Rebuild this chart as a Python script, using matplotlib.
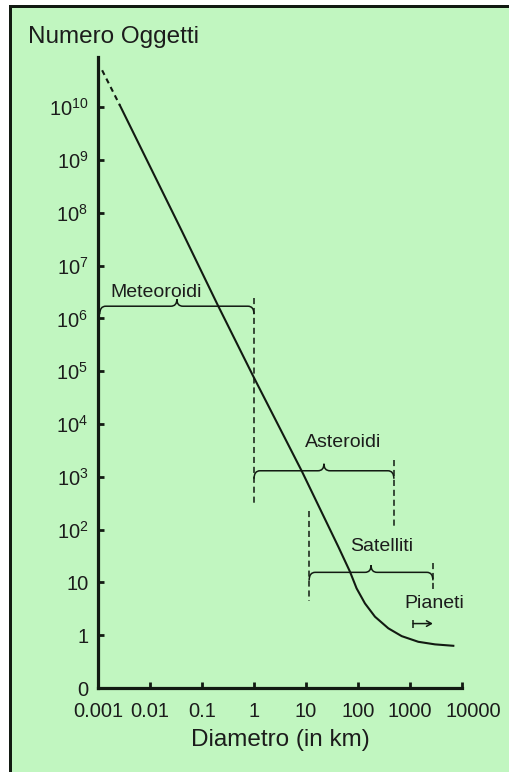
import numpy as np
import matplotlib
matplotlib.use('Agg')
import matplotlib.pyplot as plt
from matplotlib.path import Path
from matplotlib.patches import PathPatch, Rectangle
from matplotlib.transforms import IdentityTransform, ScaledTranslation

plt.rcParams['font.family'] = 'Liberation Sans'
plt.rcParams['mathtext.fontset'] = 'custom'
plt.rcParams['mathtext.rm'] = 'Liberation Sans'
plt.rcParams['mathtext.default'] = 'regular'

# curva: numero di oggetti per diametro (km)
diametri = [0.0012, 0.00265, 0.041, 0.2, 0.95, 8.4, 42, 70, 94, 136, 212, 383, 692, 1445, 3030, 6810]
oggetti = [5.0e10, 1.07e10, 4.5e7, 1.8e6, 8.3e4, 1.25e3, 47, 16, 7.7, 4.0, 2.24, 1.35, 0.96, 0.75, 0.67, 0.63]
n_tratteggio = 2   # primi punti disegnati tratteggiati

# graffe per le famiglie
gruppi = ['Meteoroidi', 'Asteroidi', 'Satelliti']
gruppi_da = [0.00108, 1.0, 11.5]
gruppi_a = [1.0, 490, 2760]
gruppi_n = [1.7e6, 1.3e3, 15.5]
etich_d = [0.013, 51, 288]
etich_n = [3.4e6, 4.9e3, 52.5]

# limiti tratteggiati verticali
limiti_d = [1.0, 490, 11.5, 2760]
limiti_n_da = [2.4e6, 2.05e3, 229, 23]
limiti_n_a = [316, 105, 4.4, 6.8]

pianeti_d, pianeti_n = 2880, 4.4
freccia_d = [1150, 2750]
freccia_n = 1.66

xticks = [1e-3, 1e-2, 1e-1, 1, 10, 100, 1000, 10000]
xlabels = ['0.001', '0.01', '0.1', '1', '10', '100', '1000', '10000']
yticks = [0.1, 1, 10] + [10.0**k for k in range(2, 11)]
ylabels = ['0', '1', '10'] + [r'$10^{%d}$' % k for k in range(2, 11)]

verde = '#c1f6c0'
scuro = '#121a12'
testo = '#1c1c1c'

fig = plt.figure(figsize=(5.09, 7.72), dpi=100)
fig.patch.set_facecolor('white')
fig.patches.append(Rectangle((9/509, 0), 1, 1 - 5/772, transform=fig.transFigure,
                             facecolor=verde, edgecolor='none', zorder=-10))
fig.patches.append(Rectangle((9/509, 0), 3/509, 1 - 5/772, transform=fig.transFigure,
                             facecolor=scuro, edgecolor='none', zorder=-9))
fig.patches.append(Rectangle((9/509, 1 - 8/772), 1, 3/772, transform=fig.transFigure,
                             facecolor=scuro, edgecolor='none', zorder=-9))

ax = fig.add_axes([98/509, 84/772, 364/509, 631/772])
ax.set_facecolor('none')
ax.set_xscale('log')
ax.set_yscale('log')
ax.set_xlim(1e-3, 1e4)
ax.set_ylim(0.1, 10**10.95)

for s in ['top', 'right']:
    ax.spines[s].set_visible(False)
for s in ['left', 'bottom']:
    ax.spines[s].set_linewidth(2.3)
    ax.spines[s].set_color(scuro)

ax.set_xticks(xticks)
ax.set_xticklabels(xlabels)
ax.set_yticks(yticks)
ax.set_yticklabels(ylabels)
ax.minorticks_off()
ax.tick_params(axis='both', direction='in', length=4.5, width=2, color=scuro,
               labelsize=14.5, labelcolor=testo)
ax.tick_params(axis='x', pad=10)
ax.tick_params(axis='y', pad=7)

# l'ultima etichetta sta un po' a destra della tacca
ult = ax.get_xticklabels()[-1]
ult.set_transform(ult.get_transform() + ScaledTranslation(0.11, 0, fig.dpi_scale_trans))

ax.set_xlabel('Diametro (in km)', fontsize=17.5, color=testo, labelpad=6)
fig.text(28/509, 1 - 37/772, 'Numero Oggetti', fontsize=17.5, color=testo,
         ha='left', va='center')

# curva
ax.plot(diametri[:n_tratteggio], oggetti[:n_tratteggio], color=scuro, lw=1.5,
        ls=(0, (2.5, 2)), solid_capstyle='butt')
ax.plot(diametri[n_tratteggio - 1:], oggetti[n_tratteggio - 1:], color=scuro, lw=1.5)

# limiti tratteggiati
for d, a, b in zip(limiti_d, limiti_n_da, limiti_n_a):
    ax.plot([d, d], [a, b], color=scuro, lw=1.1, ls=(0, (4, 2.5)))


def graffa(ax, d0, d1, n, h_fine=8, h_punta=7, r=6):
    (x0, y), (x1, _) = ax.transData.transform([(d0, n), (d1, n)])
    xm = (x0 + x1) / 2
    verts = [(x0, y - h_fine), (x0, y), (x0 + r, y),
             (xm - r, y), (xm, y), (xm, y + h_punta),
             (xm, y), (xm + r, y),
             (x1 - r, y), (x1, y), (x1, y - h_fine)]
    codes = [Path.MOVETO, Path.CURVE3, Path.CURVE3, Path.LINETO, Path.CURVE3, Path.CURVE3,
             Path.CURVE3, Path.CURVE3, Path.LINETO, Path.CURVE3, Path.CURVE3]
    p = PathPatch(Path(verts, codes), facecolor='none', edgecolor=scuro, lw=1.1,
                  transform=IdentityTransform(), clip_on=False)
    ax.add_patch(p)


for nome, d0, d1, n, ed, en in zip(gruppi, gruppi_da, gruppi_a, gruppi_n, etich_d, etich_n):
    graffa(ax, d0, d1, n)
    ax.text(ed, en, nome, fontsize=14, color=testo, ha='center', va='center_baseline')

ax.text(pianeti_d, pianeti_n, 'Pianeti', fontsize=14, color=testo, ha='center', va='center_baseline')
ax.annotate('', xy=(freccia_d[1], freccia_n), xytext=(freccia_d[0], freccia_n),
            arrowprops=dict(arrowstyle='->,head_length=0.35,head_width=0.2',
                            color=scuro, lw=1.1, shrinkA=0, shrinkB=0))
ax.plot([freccia_d[0]], [freccia_n], marker='|', ms=6, mew=1.1, color=scuro)

fig.savefig('out.png', dpi=100)
